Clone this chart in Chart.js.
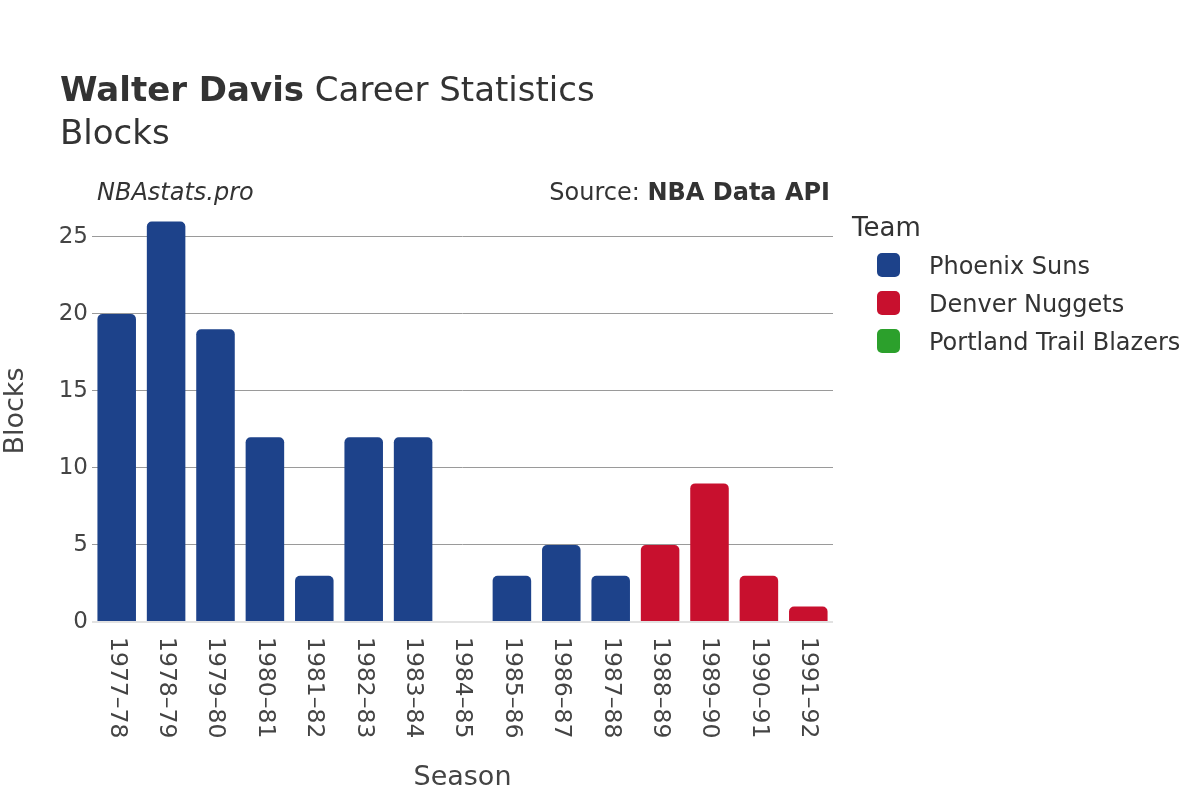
<!DOCTYPE html>
<html>
<head>
<meta charset="utf-8">
<script src="https://cdn.jsdelivr.net/npm/chart.js"></script>
<style>
  body { margin: 0; background: #fff; font-family: "DejaVu Sans", sans-serif; color: #333; }
  #wrap { position: relative; width: 1200px; height: 800px; }
  #chart { position: absolute; left: 0; top: 0; }
  .txt { position: absolute; white-space: nowrap; }
  .key { position: absolute; left: 877px; width: 23px; height: 24px; border-radius: 5px; }
</style>
</head>
<body>
<div id="wrap">
  <canvas id="chart" width="1200" height="800"></canvas>
  <div class="txt" style="left:60px;top:72px;font-size:34px;line-height:34px"><b>Walter Davis</b> Career Statistics</div>
  <div class="txt" style="left:60px;top:115px;font-size:34px;line-height:34px">Blocks</div>
  <div class="txt" style="left:97px;top:180px;font-size:24px;line-height:24px;font-style:italic">NBAstats.pro</div>
  <div class="txt" style="right:370px;top:180px;font-size:24px;line-height:24px">Source: <b>NBA Data API</b></div>
  <div class="txt" style="left:852px;top:214px;font-size:26px;line-height:26px">Team</div>
  <div id="legend"></div>
</div>
<script>
// seasons and blocks per team (null = did not play for that team)
var seasons = ['1977–78', '1978–79', '1979–80', '1980–81', '1981–82', '1982–83', '1983–84', '1984–85',
               '1985–86', '1986–87', '1987–88', '1988–89', '1989–90', '1990–91', '1991–92'];
var phoenix = [20, 26, 19, 12, 3, 12, 12, 0, 3, 5, 3, null, null, null, null];
var denver = [null, null, null, null, null, null, null, null, null, null, null, 5, 9, 3, 1];
var portland = [null, null, null, null, null, null, null, null, null, null, null, null, null, 0, null];
var teams = ['Phoenix Suns', 'Denver Nuggets', 'Portland Trail Blazers'];
var teamColors = ['#1d428a', '#c8102e', '#2ca02c'];
var yTicks = [0, 5, 10, 15, 20, 25];

// html legend
var legendHtml = '';
teams.forEach(function (t, i) {
  var base = 274 + i * 38;
  legendHtml += '<div class="key" style="top:' + (base - 21) + 'px;background:' + teamColors[i] + '"></div>';
  legendHtml += '<div class="txt" style="left:929px;top:' + (base - 20.5) + 'px;font-size:24px;line-height:24px">' + t + '</div>';
});
document.getElementById('legend').innerHTML = legendHtml;

// x labels are rotated clockwise (top to bottom), chart.js can't do that so draw them here
var xLabelsPlugin = {
  id: 'xLabels',
  afterDraw: function (chart) {
    var ctx = chart.ctx;
    var xs = chart.scales.x;
    var area = chart.chartArea;
    ctx.save();
    ctx.fillStyle = '#444';
    ctx.font = '23.5px "DejaVu Sans"';
    ctx.textBaseline = 'middle';
    ctx.textAlign = 'left';
    seasons.forEach(function (s, i) {
      var x = xs.getPixelForTick(i);
      ctx.save();
      ctx.translate(x, area.bottom + 15);
      ctx.rotate(Math.PI / 2);
      ctx.fillText(s, 0, 0);
      ctx.restore();
    });
    ctx.font = '27px "DejaVu Sans"';
    ctx.textAlign = 'center';
    ctx.fillText('Season', (area.left + area.right) / 2, 778);
    ctx.restore();
  }
};

var datasets = [phoenix, denver, portland].map(function (d, i) {
  return {
    label: teams[i],
    data: d,
    backgroundColor: teamColors[i],
    borderRadius: 5,
    categoryPercentage: 1,
    barPercentage: 0.78
  };
});

new Chart(document.getElementById('chart'), {
  type: 'bar',
  data: { labels: seasons, datasets: datasets },
  plugins: [xLabelsPlugin],
  options: {
    responsive: false,
    animation: false,
    layout: { padding: { top: 200, right: 367, bottom: 0, left: 0 } },
    plugins: { legend: { display: false }, tooltip: { enabled: false } },
    scales: {
      x: {
        stacked: true,
        ticks: { display: false },
        grid: { display: false },
        border: { display: false },
        afterFit: function (scale) { scale.height = 178; }
      },
      y: {
        stacked: true,
        min: 0,
        max: 27.4,
        afterBuildTicks: function (scale) {
          scale.ticks = yTicks.map(function (v) { return { value: v }; });
        },
        afterFit: function (scale) { scale.width = 92; },
        ticks: { color: '#444', font: { size: 23, family: 'DejaVu Sans' }, padding: 4 },
        grid: {
          drawTicks: false,
          color: function (c) { return c.tick && c.tick.value === 0 ? '#e2e2e2' : '#9a9a9a'; },
          lineWidth: function (c) { return c.tick && c.tick.value === 0 ? 2 : 1; }
        },
        border: { display: false },
        title: { display: true, text: 'Blocks', color: '#444', font: { size: 27, family: 'DejaVu Sans' }, padding: 0 }
      }
    }
  }
});
</script>
</body>
</html>
